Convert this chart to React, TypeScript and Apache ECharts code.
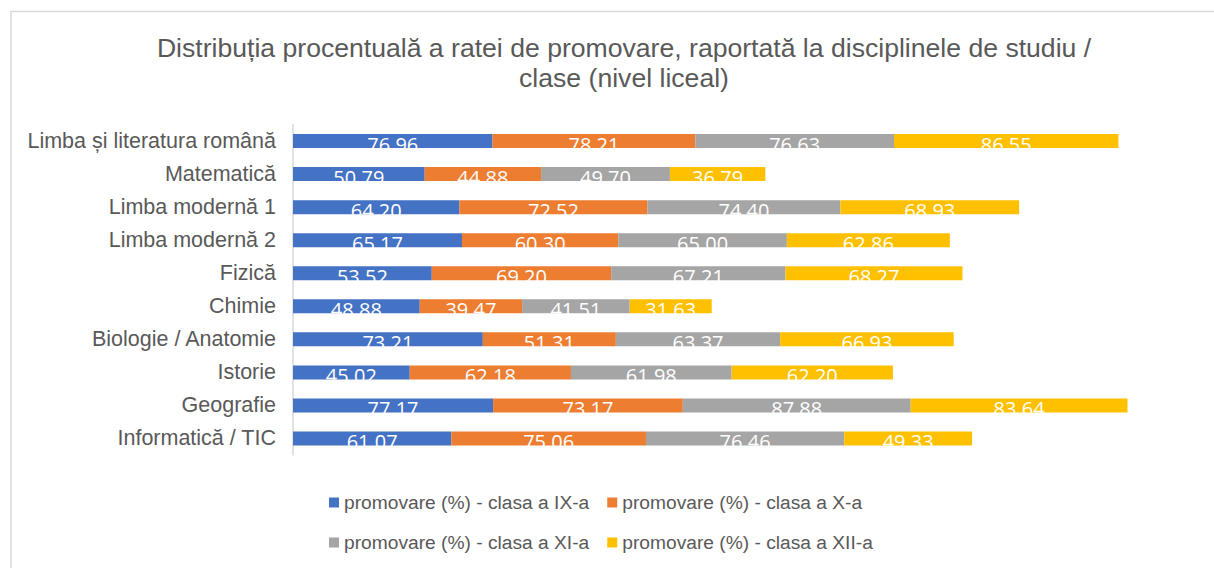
import React, { useEffect, useRef } from "react";
import * as echarts from "echarts";

const categories = [
  "Limba și literatura română",
  "Matematică",
  "Limba modernă 1",
  "Limba modernă 2",
  "Fizică",
  "Chimie",
  "Biologie / Anatomie",
  "Istorie",
  "Geografie",
  "Informatică / TIC",
];

const seriesNames = [
  "promovare (%) - clasa a IX-a",
  "promovare (%) - clasa a X-a",
  "promovare (%) - clasa a XI-a",
  "promovare (%) - clasa a XII-a",
];

const clasaIX = [76.96, 50.79, 64.2, 65.17, 53.52, 48.88, 73.21, 45.02, 77.17, 61.07];
const clasaX = [78.21, 44.88, 72.52, 60.3, 69.2, 39.47, 51.31, 62.18, 73.17, 75.06];
const clasaXI = [76.63, 49.7, 74.4, 65.0, 67.21, 41.51, 63.37, 61.98, 87.88, 76.46];
const clasaXII = [86.55, 36.79, 68.93, 62.86, 68.27, 31.63, 66.93, 62.2, 83.64, 49.33];

const colors = ["#4472C4", "#ED7D31", "#A5A5A5", "#FFC000"];

export default function App() {
  const ref = useRef<HTMLDivElement>(null);

  useEffect(() => {
    document.body.style.margin = "0";
    if (!ref.current) return;
    const chart = echarts.init(ref.current, undefined, { renderer: "svg" });
    const values = [clasaIX, clasaX, clasaXI, clasaXII];
    const textColor = "#595959";
    const font = "'Liberation Sans', Arial, sans-serif";

    chart.setOption({
      animation: false,
      backgroundColor: "#ffffff",
      title: {
        text: "Distribuția procentuală a ratei de promovare, raportată la disciplinele de studiu /\nclase (nivel liceal)",
        left: 619,
        textAlign: "center",
        top: 28,
        textStyle: {
          fontSize: 26.6,
          fontWeight: "normal",
          color: textColor,
          fontFamily: font,
          lineHeight: 30,
        },
      },
      graphic: [
        {
          type: "rect",
          shape: { x: 11, y: 11.5, width: 1220, height: 600 },
          style: { fill: "none", stroke: "#d9d9d9", lineWidth: 1.5 },
          silent: true,
        },
      ],
      legend: [
        {
          data: [seriesNames[0], seriesNames[1]],
          left: 324,
          top: 488,
          icon: "rect",
          itemWidth: 10,
          itemHeight: 10,
          itemGap: 18,
          textStyle: { fontSize: 19.2, color: textColor, fontFamily: font },
        },
        {
          data: [seriesNames[2], seriesNames[3]],
          left: 324,
          top: 528,
          icon: "rect",
          itemWidth: 10,
          itemHeight: 10,
          itemGap: 18,
          textStyle: { fontSize: 19.2, color: textColor, fontFamily: font },
        },
      ],
      grid: {
        left: 293,
        top: 124.5,
        width: 907.5,
        height: 330.5,
        containLabel: false,
      },
      xAxis: {
        type: "value",
        min: 0,
        max: 350,
        show: false,
        splitLine: { show: false },
      },
      yAxis: {
        type: "category",
        inverse: true,
        data: categories,
        axisLine: { show: true, lineStyle: { color: "#d9d9d9", width: 1.5 } },
        axisTick: { show: false },
        axisLabel: {
          fontSize: 21.5,
          color: textColor,
          fontFamily: font,
          margin: 17,
        },
      },
      series: seriesNames.map((name, i) => ({
        name,
        type: "bar",
        stack: "total",
        barWidth: 14,
        data: values[i],
        itemStyle: { color: colors[i] },
        label: {
          show: true,
          position: "inside",
          color: "#ffffff",
          fontSize: 20,
          fontFamily: "'Open Sans', sans-serif",
          offset: [0, 3],
          formatter: (p: any) => Number(p.value).toFixed(2),
        },
      })),
    });

    return () => chart.dispose();
  }, []);

  return <div ref={ref} style={{ width: 1214, height: 568 }} />;
}
